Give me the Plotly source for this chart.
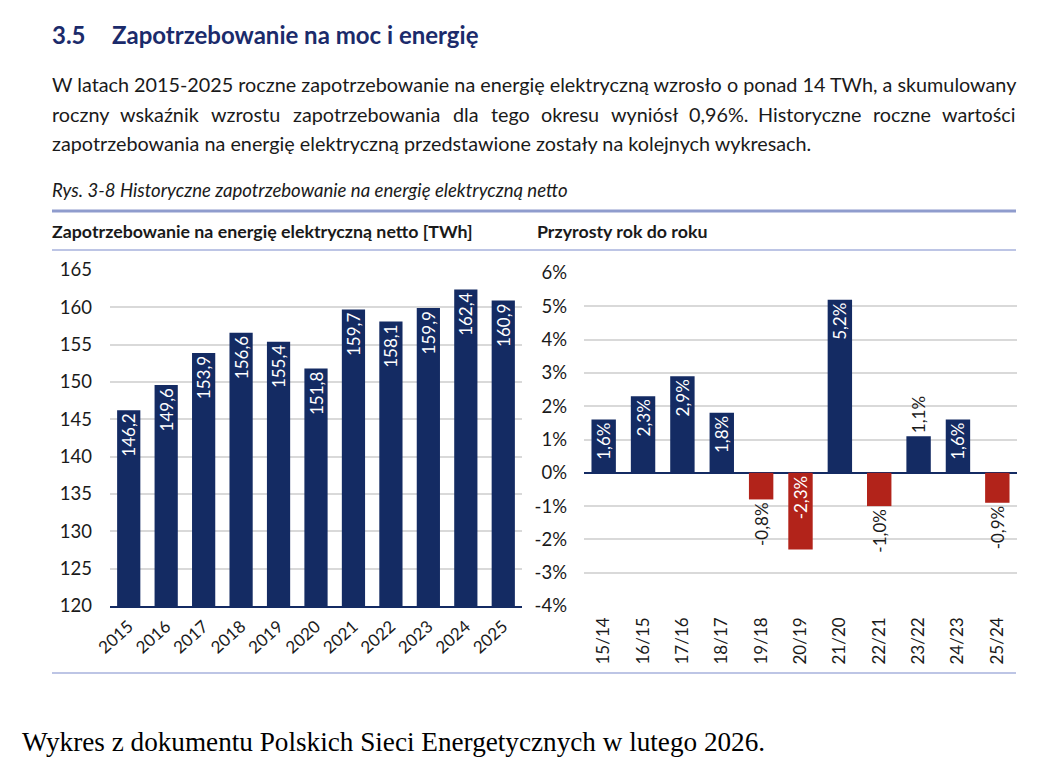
import plotly.graph_objects as go

# data
years = ['2015', '2016', '2017', '2018', '2019', '2020', '2021', '2022', '2023', '2024', '2025']
demand_twh = [146.2, 149.6, 153.9, 156.6, 155.4, 151.8, 159.7, 158.1, 159.9, 162.4, 160.9]

periods = ['15/14', '16/15', '17/16', '18/17', '19/18', '20/19', '21/20', '22/21', '23/22', '24/23', '25/24']
growth_pct = [1.6, 2.3, 2.9, 1.8, -0.8, -2.3, 5.2, -1.0, 1.1, 1.6, -0.9]

left_ticks = [120, 125, 130, 135, 140, 145, 150, 155, 160, 165]
right_ticks = [-4, -3, -2, -1, 0, 1, 2, 3, 4, 5, 6]

heading = 'Zapotrzebowanie na moc i energię'
line1 = 'W latach 2015-2025 roczne zapotrzebowanie na energię elektryczną wzrosło o ponad 14 TWh, a skumulowany'
line2 = 'roczny wskaźnik wzrostu zapotrzebowania dla tego okresu wyniósł 0,96%. Historyczne roczne wartości'
line3 = 'zapotrzebowania na energię elektryczną przedstawione zostały na kolejnych wykresach.'
caption = 'Rys. 3-8 Historyczne zapotrzebowanie na energię elektryczną netto'
left_title = 'Zapotrzebowanie na energię elektryczną netto [TWh]'
right_title = 'Przyrosty rok do roku'
footer = 'Wykres z dokumentu Polskich Sieci Energetycznych w lutego 2026.'

NAVY = '#142B63'
RED = '#B2231A'
TXT = '#1a1a1a'
GRID = '#D9D9D9'
RULE = '#8F9CCD'
FONT = 'Lato'

# page body keeps an 8px margin, so the figure is drawn from (8, 8)
OFF = 8
W, H = 1040, 760

# rough Lato advance widths (em) used only to justify the second text line
CHAR_W = {'a': .51, 'b': .56, 'c': .46, 'd': .56, 'e': .52, 'f': .32, 'g': .50, 'h': .56,
          'i': .24, 'k': .50, 'l': .24, 'm': .84, 'n': .56, 'o': .56, 'p': .56, 'r': .36,
          's': .42, 't': .35, 'u': .56, 'w': .77, 'y': .50, 'z': .45, 'ś': .42, 'ź': .45,
          'ó': .56, 'ł': .26, 'H': .73, ',': .22, '.': .22, '%': .78}


def px(x):
    return (x - OFF) / W


def py(y):
    return 1 - (y - OFF) / H


def fmt(v):
    return f'{v:.1f}'.replace('.', ',')


fig = go.Figure()

# left chart - yearly demand
fig.add_trace(go.Bar(
    x=years, y=demand_twh, marker_color=NAVY, width=0.62,
    text=[fmt(v) for v in demand_twh], textposition='inside', textangle=-90,
    insidetextanchor='end', constraintext='none',
    insidetextfont=dict(color='white', size=17, family=FONT),
    xaxis='x', yaxis='y', showlegend=False,
))

# right chart - year over year growth, split by sign
pos = [v if v >= 0 else None for v in growth_pct]
neg = [v if v < 0 else None for v in growth_pct]
for vals, col, anchor in [(pos, NAVY, 'end'), (neg, RED, 'start')]:
    fig.add_trace(go.Bar(
        x=periods, y=vals, marker_color=col, width=0.62,
        text=[fmt(v) + '%' if v is not None else '' for v in vals],
        textposition=['inside' if v is not None and abs(v) >= 1.5 else 'outside' for v in vals],
        textangle=-90, insidetextanchor=anchor, cliponaxis=False, constraintext='none',
        insidetextfont=dict(color='white', size=17, family=FONT),
        outsidetextfont=dict(color=TXT, size=17, family=FONT),
        xaxis='x2', yaxis='y2', showlegend=False,
    ))

fig.update_layout(
    width=W, height=H, margin=dict(l=0, r=0, t=0, b=0, pad=0, autoexpand=False),
    paper_bgcolor='white', plot_bgcolor='white', template='none',
    barmode='overlay', font=dict(family=FONT, color=TXT),
    xaxis=dict(domain=[px(110), px(522)], anchor='y', type='category', tickangle=-42,
               automargin=False, tickfont=dict(size=17), showline=True, linecolor=NAVY,
               linewidth=2, ticks='', showgrid=False, ticklabelstandoff=2),
    yaxis=dict(domain=[py(606), py(270)], range=[120, 165], anchor='x', automargin=False,
               tickvals=left_ticks, ticktext=[str(t) for t in left_ticks],
               tickfont=dict(size=18.5), gridcolor=GRID, gridwidth=1.5, ticks='',
               showline=False, zeroline=False, ticklabelstandoff=17),
    xaxis2=dict(domain=[px(584), px(1017)], anchor='y2', type='category', tickangle=-90,
                automargin=False, tickfont=dict(size=17), showline=False, ticks='',
                showgrid=False, ticklabelstandoff=7),
    yaxis2=dict(domain=[py(606), py(273)], range=[-4, 6], anchor='x2', automargin=False,
                tickvals=right_ticks, ticktext=[f'{t}%' for t in right_ticks],
                tickfont=dict(size=18.5), gridcolor=GRID, gridwidth=1.5, ticks='',
                showline=False, zeroline=True, zerolinecolor=NAVY, zerolinewidth=2,
                ticklabelstandoff=16),
)

ann = []


def text(x, y, s, size, **kw):
    ann.append(dict(x=px(x), y=py(y), xref='paper', yref='paper', text=s,
                    showarrow=False, xanchor=kw.pop('xanchor', 'left'), yanchor='middle',
                    borderpad=0,
                    font=dict(size=size, family=kw.pop('family', FONT),
                              color=kw.pop('color', TXT)), **kw))


BODY = 19.8
text(51, 35, '<b>3.5</b>', 24, color='#1B2B6B')
text(111, 35, f'<b>{heading}</b>', 24, color='#1B2B6B')
text(51, 84, line1, BODY)

# justified line: spread words between the text margins with equal gaps
words = line2.split()
widths = [sum(CHAR_W.get(c, .55) for c in w) * BODY for w in words]
left_edge, right_edge = 51, 1016
gap = (right_edge - left_edge - sum(widths)) / (len(words) - 1)
cursor = left_edge
for i, (w, wd) in enumerate(zip(words, widths)):
    if i == len(words) - 1:
        text(right_edge, 114, w, BODY, xanchor='right')
    elif i == 0:
        text(left_edge, 114, w, BODY)
    else:
        text(cursor + wd / 2, 114, w, BODY, xanchor='center')
    cursor += wd + gap

text(51, 143, line3, BODY)
text(51, 190, f'<i>{caption}</i>', 18.6)
text(51, 231, f'<b>{left_title}</b>', 17.8)
text(536, 231, f'<b>{right_title}</b>', 17.8)
text(21, 742, footer, 27.2, family='Liberation Serif', color='black')

fig.update_layout(annotations=ann)

shapes = [
    dict(type='line', xref='paper', yref='paper', x0=px(52), x1=px(1016),
         y0=py(211), y1=py(211), line=dict(color=RULE, width=3)),
    dict(type='line', xref='paper', yref='paper', x0=px(52), x1=px(1016),
         y0=py(250), y1=py(250), line=dict(color='#A7B2DD', width=1.5)),
    dict(type='line', xref='paper', yref='paper', x0=px(52), x1=px(1016),
         y0=py(673), y1=py(673), line=dict(color='#A7B2DD', width=1.5)),
]
fig.update_layout(shapes=shapes)

fig.write_html('out.html')
